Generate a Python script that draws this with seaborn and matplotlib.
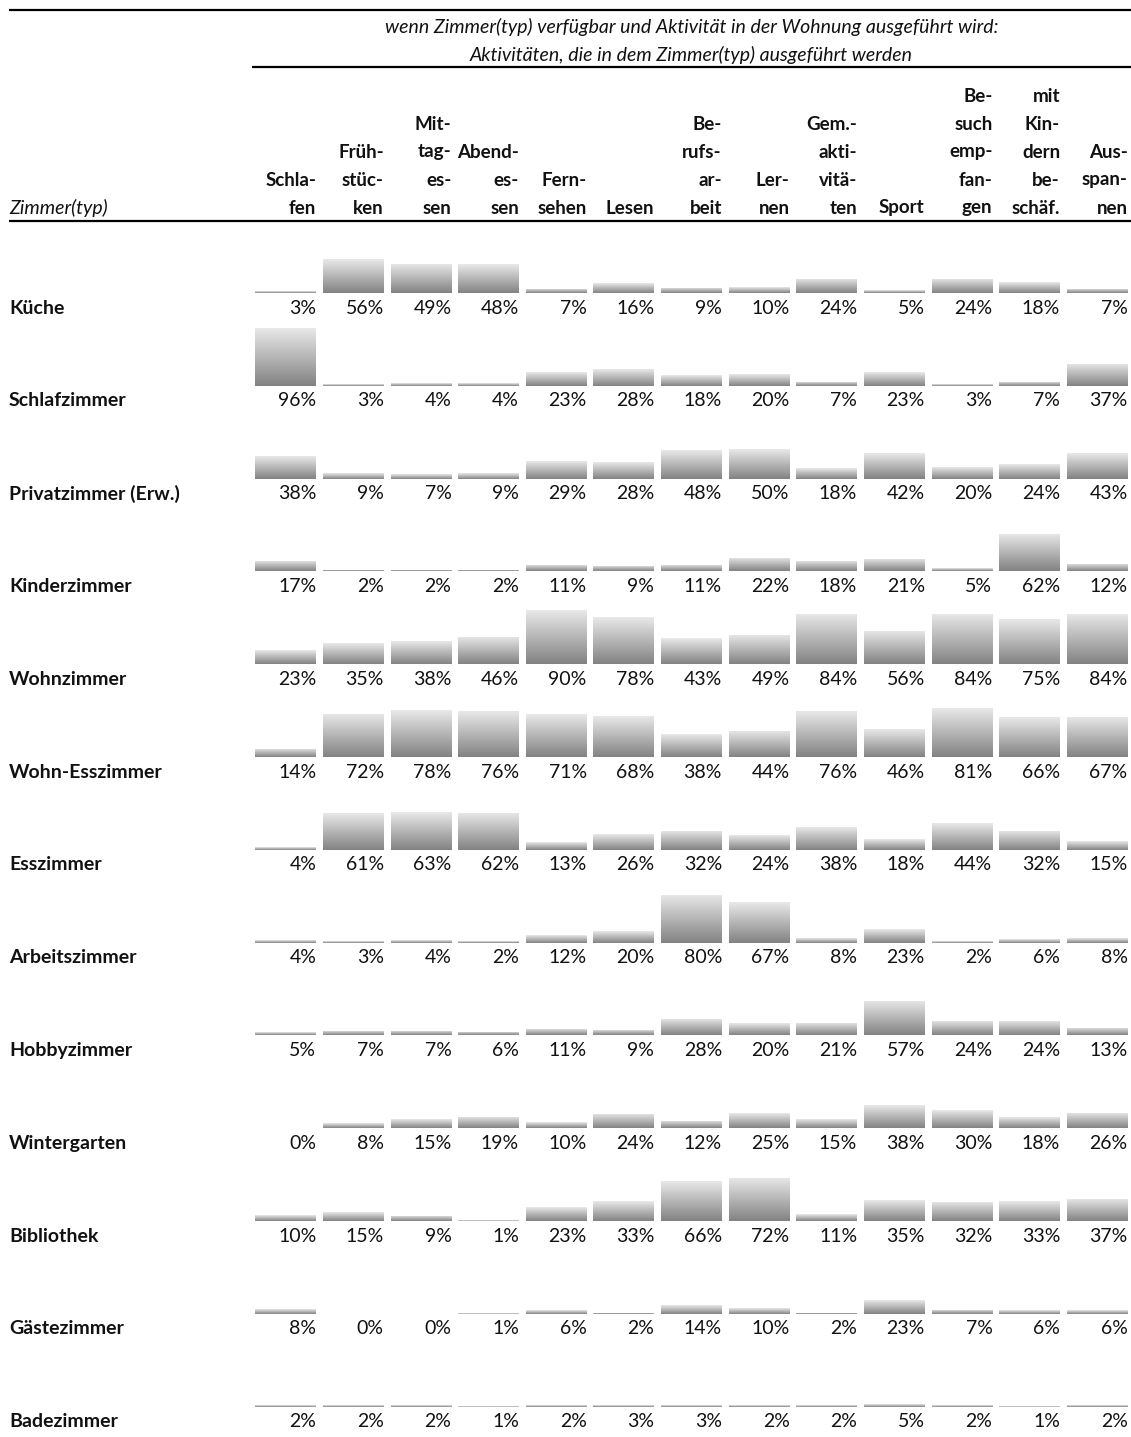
import numpy as np
import pandas as pd
import matplotlib
matplotlib.use("Agg")
import matplotlib.pyplot as plt
import matplotlib.transforms as mtransforms
from matplotlib.lines import Line2D
from matplotlib.colors import LinearSegmentedColormap
import seaborn as sns

# ---- data -------------------------------------------------------------
activities = ["Schlafen", "Frühstücken", "Mittagessen", "Abendessen", "Fernsehen",
              "Lesen", "Berufsarbeit", "Lernen", "Gem.-aktivitäten", "Sport",
              "Besuch empfangen", "mit Kindern beschäf.", "Ausspannen"]

header_lines = [
    ["Schla-", "fen"],
    ["Früh-", "stüc-", "ken"],
    ["Mit-", "tag-", "es-", "sen"],
    ["Abend-", "es-", "sen"],
    ["Fern-", "sehen"],
    ["Lesen"],
    ["Be-", "rufs-", "ar-", "beit"],
    ["Ler-", "nen"],
    ["Gem.-", "akti-", "vitä-", "ten"],
    ["Sport"],
    ["Be-", "such", "emp-", "fan-", "gen"],
    ["mit", "Kin-", "dern", "be-", "schäf."],
    ["Aus-", "span-", "nen"],
]

rooms = ["Küche", "Schlafzimmer", "Privatzimmer (Erw.)", "Kinderzimmer", "Wohnzimmer",
         "Wohn-Esszimmer", "Esszimmer", "Arbeitszimmer", "Hobbyzimmer", "Wintergarten",
         "Bibliothek", "Gästezimmer", "Badezimmer"]

kueche         = [3, 56, 49, 48, 7, 16, 9, 10, 24, 5, 24, 18, 7]
schlafzimmer   = [96, 3, 4, 4, 23, 28, 18, 20, 7, 23, 3, 7, 37]
privatzimmer   = [38, 9, 7, 9, 29, 28, 48, 50, 18, 42, 20, 24, 43]
kinderzimmer   = [17, 2, 2, 2, 11, 9, 11, 22, 18, 21, 5, 62, 12]
wohnzimmer     = [23, 35, 38, 46, 90, 78, 43, 49, 84, 56, 84, 75, 84]
wohn_esszimmer = [14, 72, 78, 76, 71, 68, 38, 44, 76, 46, 81, 66, 67]
esszimmer      = [4, 61, 63, 62, 13, 26, 32, 24, 38, 18, 44, 32, 15]
arbeitszimmer  = [4, 3, 4, 2, 12, 20, 80, 67, 8, 23, 2, 6, 8]
hobbyzimmer    = [5, 7, 7, 6, 11, 9, 28, 20, 21, 57, 24, 24, 13]
wintergarten   = [0, 8, 15, 19, 10, 24, 12, 25, 15, 38, 30, 18, 26]
bibliothek     = [10, 15, 9, 1, 23, 33, 66, 72, 11, 35, 32, 33, 37]
gaestezimmer   = [8, 0, 0, 1, 6, 2, 14, 10, 2, 23, 7, 6, 6]
badezimmer     = [2, 2, 2, 1, 2, 3, 3, 2, 2, 5, 2, 1, 2]

room_values = [kueche, schlafzimmer, privatzimmer, kinderzimmer, wohnzimmer,
               wohn_esszimmer, esszimmer, arbeitszimmer, hobbyzimmer, wintergarten,
               bibliothek, gaestezimmer, badezimmer]

title_lines = ["wenn Zimmer(typ) verfügbar und Aktivität in der Wohnung ausgeführt wird:",
               "Aktivitäten, die in dem Zimmer(typ) ausgeführt werden"]
row_header = "Zimmer(typ)"

# ---- style ------------------------------------------------------------
sns.set_style("white")
plt.rcParams["font.family"] = ["Lato", "DejaVu Sans"]
FS = 14
FS_HDR = 13.5

W, H = 1131, 1437
fig = plt.figure(figsize=(W / 100, H / 100), dpi=100)

def fx(px):
    return px / W

def fy(py):
    return 1 - py / H

grad_cmap = LinearSegmentedColormap.from_list("bar_grad", ["#828282", "#e9e9e9"])
gradient = np.linspace(0, 1, 256).reshape(-1, 1)

# layout (pixels)
left_px, right_px = 252, 1131
label_x = 9
row0_center, row_pitch = 308, 92.8
baseline_gap = 15          # distance from bar baseline to label centre
bar_full = 60              # pixel height of a 100 % bar

axes = []
for r, (room, vals) in enumerate(zip(rooms, room_values)):
    center = row0_center + r * row_pitch
    base = center - baseline_gap
    ax = fig.add_axes([fx(left_px), fy(base), fx(right_px - left_px), bar_full / H])
    df = pd.DataFrame({"Aktivität": activities, "Anteil": vals})
    sns.barplot(data=df, x="Aktivität", y="Anteil", order=activities, ax=ax,
                color="#a0a0a0", width=0.9, errorbar=None, saturation=1)
    # replace each solid bar by a vertical grey gradient
    for p in list(ax.patches):
        x0, y0 = p.get_x(), p.get_y()
        w, h = p.get_width(), p.get_height()
        p.set_facecolor("none")
        p.set_edgecolor("none")
        if h <= 0:
            continue
        im = ax.imshow(gradient, extent=[x0, x0 + w, y0, y0 + h], origin="lower",
                       aspect="auto", cmap=grad_cmap, vmin=0, vmax=1,
                       interpolation="bilinear", zorder=2)
        im.set_clip_path(p)
    ax.set_xlim(-0.5, len(activities) - 0.5)
    ax.set_ylim(0, 100)
    ax.set_axis_off()
    # value labels under each bar
    lab_y = -baseline_gap / bar_full * 100
    for i, v in enumerate(vals):
        ax.text(i + 0.45, lab_y, f"{v}%", ha="right", va="center",
                fontsize=FS, color="#111111", clip_on=False)
    fig.text(fx(label_x), fy(center), room, ha="left", va="center",
             fontsize=FS, fontweight="bold", color="#111111")
    axes.append(ax)

# column headers, right-aligned to each column and stacked from the bottom
hdr_tr = mtransforms.blended_transform_factory(axes[0].transData, fig.transFigure)
hdr_bottom, hdr_pitch = 208, 28
for i, lines in enumerate(header_lines):
    for k, line in enumerate(reversed(lines)):
        fig.text(i + 0.45, fy(hdr_bottom - k * hdr_pitch), line, transform=hdr_tr,
                 ha="right", va="center", fontsize=FS_HDR, fontweight="bold",
                 color="#111111")

fig.text(fx(label_x), fy(hdr_bottom), row_header, ha="left", va="center",
         fontsize=FS, fontstyle="italic", color="#111111")

# spanning title above the activity columns
title_cx = fx((left_px + right_px) / 2)
fig.text(title_cx, fy(27), title_lines[0], ha="center", va="center",
         fontsize=FS, fontstyle="italic", color="#111111")
fig.text(title_cx, fy(55), title_lines[1], ha="center", va="center",
         fontsize=FS, fontstyle="italic", color="#111111")

# table rules
lw = 1.6
for (x0, x1, y) in [(9, W, 10), (left_px, W, 67), (9, W, 221)]:
    fig.add_artist(Line2D([fx(x0), fx(x1)], [fy(y), fy(y)], transform=fig.transFigure,
                          color="black", lw=lw, solid_capstyle="butt"))

fig.savefig("out.png", dpi=100, facecolor="white")
